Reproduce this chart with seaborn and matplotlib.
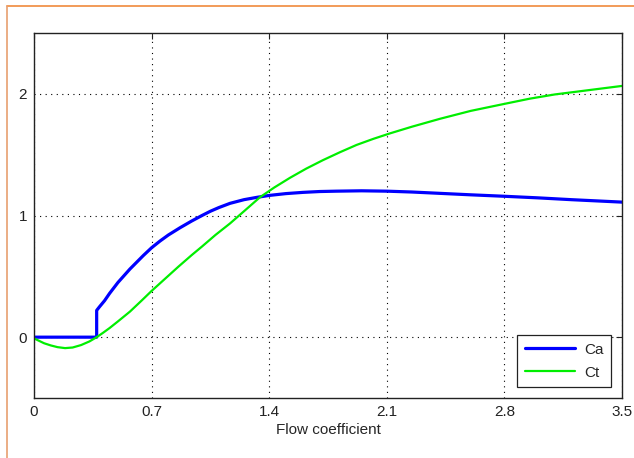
import pandas as pd
import matplotlib
matplotlib.use("Agg")
import matplotlib.pyplot as plt
from matplotlib.lines import Line2D
import seaborn as srn

# -------------------------------
# Dados
# -------------------------------
ca_x = [0, 0.373, 0.373, 0.39, 0.42, 0.45, 0.5, 0.571, 0.65, 0.7, 0.75, 0.8,
        0.87, 0.939, 1.0, 1.05, 1.1, 1.167, 1.25, 1.33, 1.4, 1.5, 1.6, 1.7,
        1.8, 1.95, 2.1, 2.25, 2.417, 2.6, 2.8, 3.0, 3.2, 3.35, 3.5]
ca_y = [0, 0, 0.22, 0.25, 0.30, 0.36, 0.45, 0.56, 0.67, 0.735, 0.79, 0.84,
        0.90, 0.955, 1.0, 1.035, 1.065, 1.10, 1.13, 1.15, 1.165, 1.18, 1.19, 1.197,
        1.20, 1.203, 1.20, 1.193, 1.182, 1.17, 1.158, 1.145, 1.13, 1.12, 1.11]

ct_x = [0, 0.03, 0.06, 0.1, 0.14, 0.185, 0.23, 0.28, 0.33, 0.373, 0.41, 0.45,
        0.5, 0.571, 0.64, 0.7, 0.78, 0.86, 0.939, 1.0, 1.08, 1.167, 1.25, 1.345,
        1.43, 1.524, 1.62, 1.72, 1.821, 1.92, 2.02, 2.119, 2.25, 2.417, 2.6,
        2.774, 2.95, 3.1, 3.3, 3.5]
ct_y = [-0.01, -0.03, -0.05, -0.068, -0.082, -0.09, -0.085, -0.065, -0.035, 0.0, 0.035, 0.075,
        0.13, 0.21, 0.30, 0.38, 0.48, 0.58, 0.675, 0.745, 0.84, 0.935, 1.035, 1.15,
        1.23, 1.31, 1.385, 1.455, 1.52, 1.58, 1.63, 1.675, 1.73, 1.795, 1.86,
        1.91, 1.96, 1.995, 2.03, 2.065]

x_ticks = [0, 0.7, 1.4, 2.1, 2.8, 3.5]
x_labels = ["0", "0.7", "1.4", "2.1", "2.8", "3.5"]
y_ticks = [0, 1, 2]

ca = pd.DataFrame({"x": ca_x, "y": ca_y})
ct = pd.DataFrame({"x": ct_x, "y": ct_y})

# -------------------------------
# Figura
# -------------------------------
srn.set_style("white")
plt.rcParams["font.family"] = ["Liberation Sans", "DejaVu Sans"]

fig = plt.figure(figsize=(6.34, 4.58), dpi=100)
ax = fig.add_axes([34 / 634, 60 / 458, 588 / 634, 365 / 458])

srn.lineplot(data=ca, x="x", y="y", sort=False, estimator=None,
             color="#0000ff", linewidth=2.3, label="Ca", ax=ax)
srn.lineplot(data=ct, x="x", y="y", sort=False, estimator=None,
             color="#00ee00", linewidth=1.6, label="Ct", ax=ax)

ax.set_xlim(0, 3.5)
ax.set_ylim(-0.5, 2.5)
ax.set_xticks(x_ticks)
ax.set_xticklabels(x_labels)
ax.set_yticks(y_ticks)
ax.grid(True, color="black", linestyle=(0, (1, 4)), linewidth=0.8)
ax.tick_params(direction="in", top=True, right=True, length=4, width=0.8,
               labelsize=11, colors="#222222", pad=5)
for s in ax.spines.values():
    s.set_color("#222222")
    s.set_linewidth(1.0)
ax.set_xlabel("Flow coefficient", fontsize=11, labelpad=3)
ax.set_ylabel("")

leg = ax.legend(loc="lower right", fontsize=11, frameon=True, fancybox=False,
                edgecolor="#222222", framealpha=1, handlelength=3.3,
                borderaxespad=0.7, labelspacing=0.6, borderpad=0.5,
                handletextpad=0.6)
leg.get_frame().set_linewidth(0.9)

# borda laranja
fig.add_artist(Line2D([7 / 634, 1], [1 - 6 / 458, 1 - 6 / 458], color="#f08a3c", linewidth=1.2))
fig.add_artist(Line2D([7 / 634, 7 / 634], [0, 1 - 6 / 458], color="#e8a070", linewidth=1.2))

fig.savefig("out.png", dpi=100)
